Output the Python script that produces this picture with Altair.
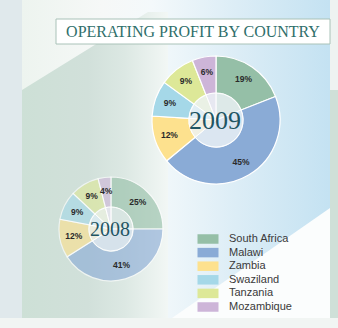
import altair as alt
import pandas as pd

countries = ["South Africa", "Malawi", "Zambia", "Swaziland", "Tanzania", "Mozambique"]
share_2009 = [19, 45, 12, 9, 9, 6]
share_2008 = [25, 41, 12, 9, 9, 4]
palette = ["#95bfa7", "#8aabd6", "#fde18e", "#a5d8e8", "#dde898", "#cdb5d8"]
title_text = "OPERATING PROFIT BY COUNTRY"

rows = []
for yr, vals in (("2009", share_2009), ("2008", share_2008)):
    for i, (c, v) in enumerate(zip(countries, vals)):
        rows.append({"year": yr, "country": c, "value": v, "idx": i, "label": f"{v}%"})
df = pd.DataFrame(rows)
one = pd.DataFrame({"k": [0]})

W, H = 338, 328
color = alt.Color(
    "country:N",
    scale=alt.Scale(domain=countries, range=palette),
    legend=alt.Legend(
        title=None, orient="none", legendX=202.5, legendY=233.5,
        symbolType="M-2.1,-0.95H2.1V0.95H-2.1Z", symbolSize=100, symbolStrokeWidth=0,
        symbolOpacity=1, labelFont="Liberation Sans", labelFontSize=11,
        labelColor="#3a3a3a", labelOffset=15.5, rowPadding=1.6, padding=0,
    ),
)

def grad(stops, x2=1, y2=0):
    return alt.LinearGradient(
        gradient="linear", x1=0, y1=0, x2=x2, y2=y2,
        stops=[alt.GradientStop(color=c, offset=o) for o, c in stops],
    )

bg = alt.Chart(one).mark_rect(
    color=grad([(0, "#e0e9ec"), (0.064, "#e0e9ec"), (0.066, "#edf4ef"), (0.3, "#f6f8f7"),
                (0.45, "#f4f9fb"), (0.7, "#dcedf6"), (0.975, "#c4e2f2"), (0.977, "#eef3f1"), (1, "#eef3f1")])
).encode(x=alt.value(0), x2=alt.value(W), y=alt.value(0), y2=alt.value(H))

green = alt.Chart(one).mark_point(
    shape="M22,90L148,12L168,12L168,318L22,318Z", size=4, filled=True, opacity=1, strokeWidth=0,
    color=grad([(0, "#cde0d6"), (0.45, "#d1e0da"), (0.7, "#dce8e3"), (1, "#f2f7f5")]),
).encode(x=alt.value(0), y=alt.value(0))

white_tri = alt.Chart(one).mark_point(
    shape="M172,318L330,208L330,318Z", size=4, filled=True, opacity=1, strokeWidth=0, color="#fbfdfd",
).encode(x=alt.value(0), y=alt.value(0))

right_strip = alt.Chart(one).mark_rect(color="#cfe0d8").encode(
    x=alt.value(330), x2=alt.value(W), y=alt.value(90), y2=alt.value(318))
bottom_strip = alt.Chart(one).mark_rect(color="#f1f5f3").encode(
    x=alt.value(0), x2=alt.value(W), y=alt.value(318), y2=alt.value(H))

title_box = alt.Chart(one).mark_rect(fill="white", stroke="#a9c2b8", strokeWidth=1).encode(
    x=alt.value(56), x2=alt.value(330), y=alt.value(19), y2=alt.value(44))
title = alt.Chart(one).mark_text(
    text=title_text, font="Liberation Serif", fontSize=16, color="#2f6f6b", align="center", baseline="middle"
).encode(x=alt.value(193), y=alt.value(32))

def donut(yr, cx, cy, r_out, r_in, r_lab, op, inner_fill, year_size):
    base = alt.Chart(df).transform_filter(alt.datum.year == yr)
    arcs = base.mark_arc(outerRadius=r_out, innerRadius=r_in, stroke="white", strokeWidth=1.2, opacity=op).encode(
        theta=alt.Theta("value:Q", stack=True), order=alt.Order("idx:Q"), color=color,
        x=alt.value(cx), y=alt.value(cy))
    inner = alt.Chart(one).mark_arc(outerRadius=r_in, innerRadius=0, fill=inner_fill, opacity=0.92).encode(
        theta=alt.value(6.2832), x=alt.value(cx), y=alt.value(cy))
    inner_sl = base.mark_arc(outerRadius=r_in, innerRadius=0, stroke="white", strokeWidth=1,
                             fillOpacity=0.18, strokeOpacity=0.9).encode(
        theta=alt.Theta("value:Q", stack=True), order=alt.Order("idx:Q"), color=color,
        x=alt.value(cx), y=alt.value(cy))
    labels = base.mark_text(radius=r_lab, font="Liberation Sans", fontWeight="bold", fontSize=8.5,
                            color="#2a2a2a").encode(
        theta=alt.Theta("value:Q", stack=True), order=alt.Order("idx:Q"), text="label:N",
        x=alt.value(cx), y=alt.value(cy))
    year = alt.Chart(one).mark_text(text=yr, font="Liberation Serif", fontSize=year_size, color="#1f5563",
                                    align="center", baseline="middle").encode(
        x=alt.value(cx - 1), y=alt.value(cy + 1))
    return [arcs, inner, inner_sl, labels, year]

layers = [bg, green, white_tri, right_strip, bottom_strip, title_box, title]
layers += donut("2009", 216, 120, 64, 27, 49, 1.0, "#eef3f6", 26)
layers += donut("2008", 111, 229, 52, 22, 38, 0.62, "#e8eff0", 20)

chart = alt.layer(*layers).properties(width=W, height=H, padding=0, autosize="none").configure_view(stroke=None)
chart.save("out.html", embed_options={"renderer": "svg", "actions": False})
